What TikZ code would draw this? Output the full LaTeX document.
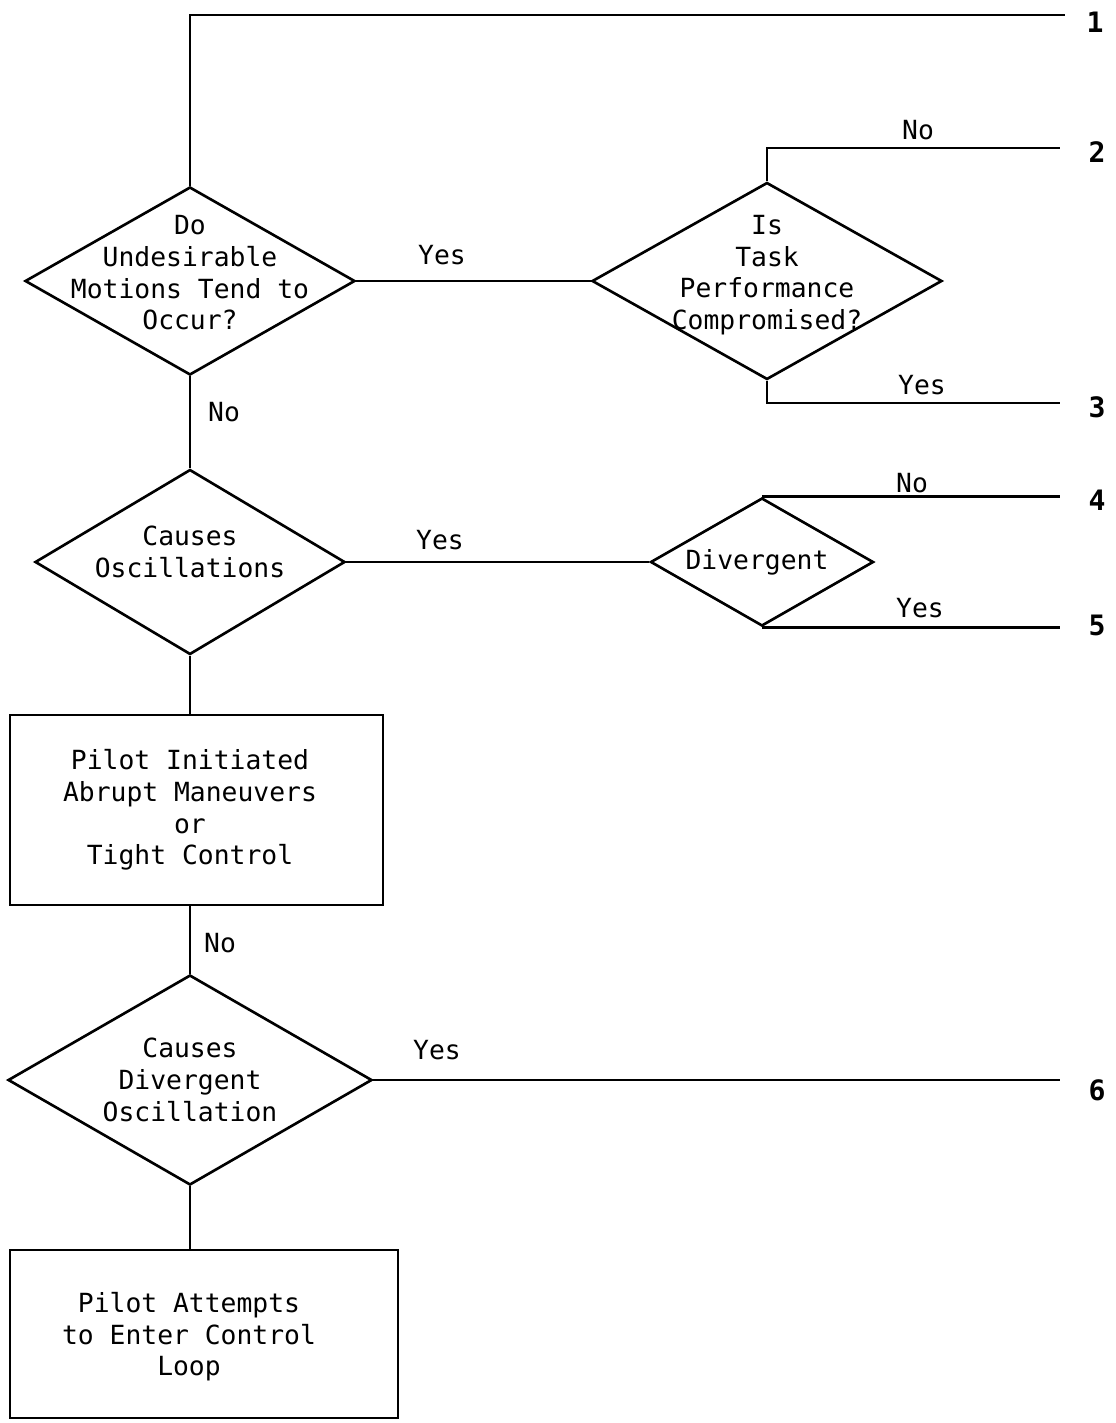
\documentclass[tikz,border=0pt]{standalone}
\usepackage{fontspec}
\usetikzlibrary{shapes.geometric}
\newfontfamily\flowfont{DejaVu Sans Mono}

\begin{document}
\begin{tikzpicture}[
		line width=1.5pt,
		every node/.style={font=\flowfont\fontsize{15}{18}\selectfont},
		decision/.style={draw, diamond, inner sep=0pt},
		process/.style={draw, rectangle, inner sep=0pt},
		inside/.style={align=center},
		lbl/.style={inner sep=0pt},
		endnum/.style={inner sep=0pt, font=\flowfont\bfseries\fontsize{16}{18}\selectfont}
	]
			\useasboundingbox (0, 0) rectangle (22.32, -28.46);

			\draw (3.8, -5.62) 	node[decision, minimum width=6.6cm, minimum height=3.76cm, label={[inside, yshift=0.16cm]center:Do\\Undesirable\\Motions Tend to\\Occur?}] 	(motions) 	{};
			\draw (15.34, -5.62) 	node[decision, minimum width=7cm, minimum height=3.94cm, label={[inside, yshift=0.12cm]center:Is\\Task\\Performance\\Compromised?}] 	(task) 		{};
			\draw (3.8, -11.24) 	node[decision, minimum width=6.2cm, minimum height=3.7cm, label={[inside, yshift=0.2cm]center:Causes\\Oscillations}] 	(osc) 		{};
			\draw (15.24, -11.24) 	node[decision, minimum width=4.46cm, minimum height=2.56cm, label={[inside, xshift=-0.1cm]center:Divergent}] 	(diverg) 	{};
			\draw (3.93, -16.2) 	node[process, minimum width=7.46cm, minimum height=3.8cm, label={[inside, xshift=-0.13cm]center:Pilot Initiated\\Abrupt Maneuvers\\or\\Tight Control}] 	(abrupt) 	{};
			\draw (3.8, -21.6) 	node[decision, minimum width=7.28cm, minimum height=4.2cm, label={[inside]center:Causes\\Divergent\\Oscillation}] 	(divosc) 	{};
			\draw (4.08, -26.68) 	node[process, minimum width=7.76cm, minimum height=3.36cm, label={[inside, xshift=-0.3cm, yshift=-0.06cm]center:Pilot Attempts\\to Enter Control\\Loop}] 	(enter) 	{};

			% free ends on the right
			\coordinate (e1) at (21.3, -0.3);
			\coordinate (e2) at (21.2, -2.96);
			\coordinate (e3) at (21.2, -8.06);
			\coordinate (e4) at (21.2, -9.96);
			\coordinate (e5) at (21.2, -12.52);
			\coordinate (e6) at (21.2, -21.6);

			\draw (motions.north) |- (e1);
			\draw (motions.east) -- (task.west);
			\draw (task.north) |- (e2);
			\draw (task.south) |- (e3);
			\draw (motions.south) -- (osc.north);
			\draw (osc.east) -- (diverg.west);
			\draw (diverg.north) -- (diverg.north -| e4);
			\draw (diverg.south) -- (diverg.south -| e5);
			\draw (osc.south) -- (osc.south |- abrupt.north);
			\draw (abrupt.south -| divosc.north) -- (divosc.north);
			\draw (divosc.east) -- (e6);
			\draw (divosc.south) -- (divosc.south |- enter.north);

			\draw (8.84, -5.1) 	node[lbl] 	(yes1) 	{Yes};
			\draw (18.36, -2.6) 	node[lbl] 	(no2) 	{No};
			\draw (18.44, -7.7) 	node[lbl] 	(yes2) 	{Yes};
			\draw (4.48, -8.24) 	node[lbl] 	(no1) 	{No};
			\draw (8.8, -10.8) 	node[lbl] 	(yes3) 	{Yes};
			\draw (18.24, -9.66) 	node[lbl] 	(no4) 	{No};
			\draw (18.4, -12.16) 	node[lbl] 	(yes4) 	{Yes};
			\draw (4.4, -18.86) 	node[lbl] 	(no5) 	{No};
			\draw (8.74, -21.0) 	node[lbl] 	(yes5) 	{Yes};

			\draw (21.9, -0.44) 	node[endnum] 	(n1) 	{1};
			\draw (21.94, -3.04) 	node[endnum] 	(n2) 	{2};
			\draw (21.94, -8.14) 	node[endnum] 	(n3) 	{3};
			\draw (21.94, -10.0) 	node[endnum] 	(n4) 	{4};
			\draw (21.94, -12.5) 	node[endnum] 	(n5) 	{5};
			\draw (21.94, -21.8) 	node[endnum] 	(n6) 	{6};
		\end{tikzpicture}
\end{document}
